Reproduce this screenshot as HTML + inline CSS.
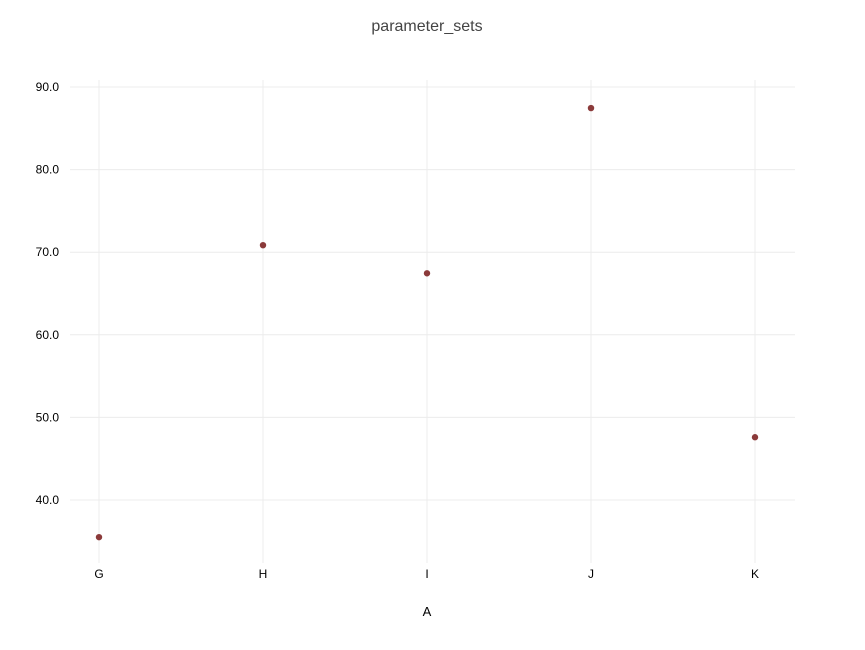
<!DOCTYPE html>
<html><head><meta charset="utf-8"><style>
body{margin:0;background:#fff;}
svg{display:block;font-family:"Liberation Sans",sans-serif;}
</style></head><body>
<svg id="chart" width="865" height="650">
<text x="427" y="31" text-anchor="middle" font-size="16" fill="#444">parameter_sets</text>
<g id="grid"></g><g id="pts"></g><g id="labels"></g>
<text x="427" y="616" text-anchor="middle" font-size="13" fill="#000">A</text>
</svg>
<script>
const categories = ["G","H","I","J","K"];
const values = [35.5, 70.85, 67.45, 87.45, 47.6];
const yTicks = [40, 50, 60, 70, 80, 90];
const NS="http://www.w3.org/2000/svg";
function xs(i){return 99 + i*164;}
function ys(v){return 500 - (v-40)*8.26;}
function mk(tag,attrs,parent){const e=document.createElementNS(NS,tag);for(const k in attrs)e.setAttribute(k,attrs[k]);document.getElementById(parent).appendChild(e);return e;}
yTicks.forEach(t=>{
  const l=mk('line',{x1:70,x2:795,y1:ys(t),y2:ys(t),stroke:'#ececec','stroke-width':1},'grid');
  
  
  const tx=mk('text',{x:59,y:ys(t)+4,'text-anchor':'end','font-size':12,fill:'#000'},'labels');
  tx.textContent=t.toFixed(1);
  
  
});
categories.forEach((c,i)=>{
  const l=mk('line',{x1:xs(i),x2:xs(i),y1:80,y2:563,stroke:'#ececec','stroke-width':1},'grid');
  
  
  const tx=mk('text',{x:xs(i),y:578,'text-anchor':'middle','font-size':12,fill:'#000'},'labels');
  tx.textContent=c;
  
  
  const p=mk('circle',{cx:xs(i),cy:ys(values[i]),r:3.2,fill:'#8b3a3a'},'pts');
  
  
});
</script>
</body></html>
